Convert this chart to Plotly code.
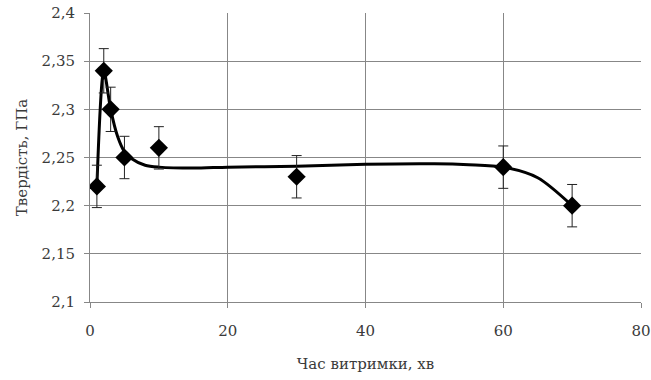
import plotly.graph_objects as go

# Measured hardness vs. holding time
time_min = [1, 2, 3, 5, 10, 30, 60, 70]
hardness_gpa = [2.22, 2.34, 2.30, 2.25, 2.26, 2.23, 2.24, 2.20]
hardness_err = [0.022, 0.023, 0.023, 0.022, 0.022, 0.022, 0.022, 0.022]

# Smoothed trend curve
trend_x = [1, 2, 3, 4, 5, 6, 8, 10, 15, 20, 30, 40, 50, 55, 60, 65, 70]
trend_y = [2.22, 2.34, 2.30, 2.272, 2.256, 2.249, 2.242, 2.240, 2.239, 2.240,
           2.241, 2.243, 2.2435, 2.2425, 2.240, 2.229, 2.20]

x_ticks = [0, 20, 40, 60, 80]
y_ticks = [2.1, 2.15, 2.2, 2.25, 2.3, 2.35, 2.4]

FONT = "DejaVu Serif, Liberation Serif, serif"
GRID = "#878787"
TEXT = "#3a3a3a"

fig = go.Figure()

fig.add_trace(go.Scatter(
    x=trend_x, y=trend_y, mode="lines",
    line=dict(color="black", width=3, shape="spline", smoothing=0.8),
    hoverinfo="skip", showlegend=False,
))

fig.add_trace(go.Scatter(
    x=time_min, y=hardness_gpa, mode="markers",
    marker=dict(symbol="diamond", size=14, color="black"),
    error_y=dict(type="data", array=hardness_err, visible=True,
                 color="#222222", thickness=1, width=5),
    showlegend=False,
))

fig.update_layout(
    width=651, height=380,
    margin=dict(l=90, r=10, t=13, b=78),
    paper_bgcolor="white", plot_bgcolor="white",
    separators=", ",
    font=dict(family=FONT, size=15, color=TEXT),
    xaxis=dict(
        range=[0, 80], tickvals=x_ticks,
        automargin=False,
        showgrid=True, gridcolor=GRID, gridwidth=1,
        showline=True, linecolor=GRID, linewidth=1,
        ticks="outside", ticklen=5, tickcolor=GRID,
        ticklabelstandoff=10,
        zeroline=False,
        tickfont=dict(family=FONT, size=15, color=TEXT),
        title=dict(text="Час витримки, хв", standoff=19,
                   font=dict(family=FONT, size=15, color=TEXT)),
    ),
    yaxis=dict(
        range=[2.1, 2.4], tickvals=y_ticks,
        automargin=False,
        showgrid=True, gridcolor=GRID, gridwidth=1,
        showline=True, linecolor=GRID, linewidth=1,
        ticks="outside", ticklen=5, tickcolor=GRID,
        ticklabelstandoff=6,
        zeroline=False,
        tickfont=dict(family=FONT, size=15, color=TEXT),
        title=dict(text="Твердість, ГПа", standoff=10,
                   font=dict(family=FONT, size=15, color=TEXT)),
    ),
)

fig.write_html("out.html")
